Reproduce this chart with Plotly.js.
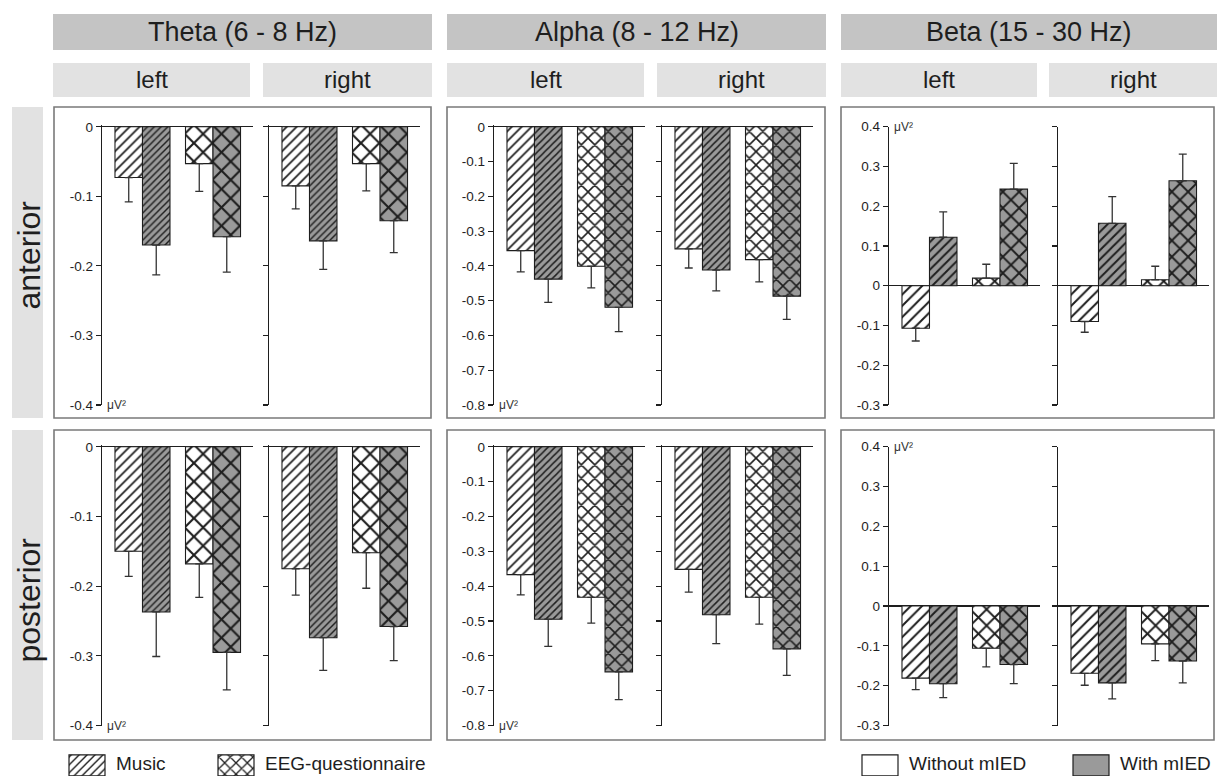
<!DOCTYPE html>
<html>
<head>
<meta charset="utf-8">
<script src="https://cdn.plot.ly/plotly-3.0.1.min.js"></script>
<style>
  html, body { margin: 0; padding: 0; background: #ffffff; }
  #chart { width: 1217px; height: 776px; }
</style>
</head>
<body>
<div id="chart"></div>
<script>
// ---------------- DATA ----------------
const bands = ["Theta (6 - 8 Hz)", "Alpha (8 - 12 Hz)", "Beta (15 - 30 Hz)"];
const hemispheres = ["left", "right"];
const regions = ["anterior", "posterior"];
const conditions = ["Music", "EEG-questionnaire"];
const groups = ["Without mIED", "With mIED"];

// values ordered: [left-Music, left-EEG, right-Music, right-EEG]  (µV²)
const thetaAntWithout   = [-0.073, -0.053, -0.085, -0.053];
const thetaAntWith      = [-0.170, -0.158, -0.164, -0.135];
const thetaAntWithoutSE = [0.035, 0.040, 0.033, 0.039];
const thetaAntWithSE    = [0.043, 0.051, 0.041, 0.046];

const alphaAntWithout   = [-0.356, -0.401, -0.351, -0.382];
const alphaAntWith      = [-0.438, -0.519, -0.412, -0.487];
const alphaAntWithoutSE = [0.061, 0.062, 0.055, 0.064];
const alphaAntWithSE    = [0.067, 0.070, 0.060, 0.067];

const betaAntWithout    = [-0.107, 0.019, -0.090, 0.015];
const betaAntWith       = [0.122, 0.243, 0.157, 0.264];
const betaAntWithoutSE  = [0.032, 0.035, 0.027, 0.034];
const betaAntWithSE     = [0.064, 0.065, 0.067, 0.067];

const thetaPostWithout   = [-0.150, -0.168, -0.175, -0.152];
const thetaPostWith      = [-0.237, -0.295, -0.274, -0.258];
const thetaPostWithoutSE = [0.036, 0.048, 0.038, 0.051];
const thetaPostWithSE    = [0.064, 0.054, 0.047, 0.049];

const alphaPostWithout   = [-0.367, -0.432, -0.352, -0.432];
const alphaPostWith      = [-0.495, -0.646, -0.482, -0.580];
const alphaPostWithoutSE = [0.058, 0.074, 0.065, 0.077];
const alphaPostWithSE    = [0.078, 0.080, 0.083, 0.076];

const betaPostWithout    = [-0.181, -0.106, -0.169, -0.095];
const betaPostWith       = [-0.195, -0.147, -0.193, -0.138];
const betaPostWithoutSE  = [0.029, 0.047, 0.030, 0.042];
const betaPostWithSE     = [0.035, 0.048, 0.040, 0.055];

// axis ranges and tick labels per band (tiny headroom above 0 keeps the zero line unclipped)
const thetaRange = [-0.4, 0.003];
const alphaRange = [-0.8, 0.006];
const betaRange  = [-0.3, 0.4];
const thetaTickVals = [0, -0.1, -0.2, -0.3, -0.4];
const thetaTickText = ["0", "-0.1", "-0.2", "-0.3", "-0.4"];
const alphaTickVals = [0, -0.1, -0.2, -0.3, -0.4, -0.5, -0.6, -0.7, -0.8];
const alphaTickText = ["0", "-0.1", "-0.2", "-0.3", "-0.4", "-0.5", "-0.6", "-0.7", "-0.8"];
const betaTickVals  = [0.4, 0.3, 0.2, 0.1, 0, -0.1, -0.2, -0.3];
const betaTickText  = ["0.4", "0.3", "0.2", "0.1", "0", "-0.1", "-0.2", "-0.3"];
const unitLabel = "μV²";

// ---------------- LAYOUT HELPERS ----------------
const W = 1217, H = 776;
const fx = p => p / W;
const fy = p => 1 - p / H;
const FONT = "Liberation Sans, Arial, Helvetica, sans-serif";
const INK = "#1e1e1e";
const GRAY_BAR = "#9a9a9a";

const panelData = [
  [ // anterior
    {w: thetaAntWithout, m: thetaAntWith, wse: thetaAntWithoutSE, mse: thetaAntWithSE},
    {w: alphaAntWithout, m: alphaAntWith, wse: alphaAntWithoutSE, mse: alphaAntWithSE},
    {w: betaAntWithout,  m: betaAntWith,  wse: betaAntWithoutSE,  mse: betaAntWithSE}
  ],
  [ // posterior
    {w: thetaPostWithout, m: thetaPostWith, wse: thetaPostWithoutSE, mse: thetaPostWithSE},
    {w: alphaPostWithout, m: alphaPostWith, wse: alphaPostWithoutSE, mse: alphaPostWithSE},
    {w: betaPostWithout,  m: betaPostWith,  wse: betaPostWithoutSE,  mse: betaPostWithSE}
  ]
];
// topPad: pixels of headroom above the plotted top value
const bandAxes = [
  {range: thetaRange, vals: thetaTickVals, text: thetaTickText, unitY: -0.4, topPad: 2},
  {range: alphaRange, vals: alphaTickVals, text: alphaTickText, unitY: -0.8, topPad: 2},
  {range: betaRange,  vals: betaTickVals,  text: betaTickText,  unitY: 0.4,  topPad: 0}
];
// hatch styles per band: [white slash, gray slash, cross]
const bandHatch = [
  {sw: 7, sg: 4.8, cx: 13},
  {sw: 7, sg: 5,   cx: 9.5},
  {sw: 8, sg: 6.5, cx: 11.5}
];

// pixel geometry
const subX = [[102, 253], [269, 420], [494, 645], [662, 813], [889, 1040], [1058, 1209]];
const rowY = [[126.7, 405], [446.7, 725.5]];
const panelX = [[54, 431], [447, 825], [841, 1214]];
const panelY = [[107, 418], [430, 740]];
const rowLabelY = [255, 600];
const headX = [[53, 432], [447, 826], [841, 1217]];
const subHeadX = [[53, 250], [263, 432], [447, 644], [657, 826], [841, 1037], [1049, 1217]];
const legendX = [58, 207, 851, 1062];

const sfx = k => (k === 1 ? "" : String(k));
const errUp = (vals, se) => vals.map((v, i) => (v >= 0 ? se[i] : 0));
const errDown = (vals, se) => vals.map((v, i) => (v < 0 ? se[i] : 0));

const traces = [];
const layout = {
  width: W, height: H,
  margin: {l: 0, r: 0, t: 0, b: 0, autoexpand: false},
  paper_bgcolor: "#ffffff",
  plot_bgcolor: "rgba(0,0,0,0)",
  font: {family: FONT, color: INK, size: 13},
  barmode: "group",
  bargap: 0.22,
  bargroupgap: 0,
  showlegend: true,
  shapes: [],
  annotations: []
};

for (let r = 0; r < 2; r++) {
  for (let b = 0; b < 3; b++) {
    const pd = panelData[r][b];
    const ax = bandAxes[b];
    const hs = bandHatch[b];
    for (let h = 0; h < 2; h++) {
      const k = r * 6 + b * 2 + h + 1;
      const xs = subX[b * 2 + h];
      layout["xaxis" + sfx(k)] = {
        domain: [fx(xs[0]), fx(xs[1])],
        range: [-0.574, 1.567],
        type: "category",
        anchor: "y" + sfx(k),
        visible: false, fixedrange: true
      };
      layout["yaxis" + sfx(k)] = {
        domain: [fy(rowY[r][1]), fy(rowY[r][0] - ax.topPad)],
        range: ax.range,
        anchor: "x" + sfx(k),
        showline: true, linecolor: INK, linewidth: 1.3,
        ticks: "outside", ticklen: 5, tickwidth: 1.2, tickcolor: INK,
        tickmode: "array", tickvals: ax.vals, ticktext: ax.text,
        showticklabels: h === 0,
        tickfont: {size: 13.5, color: INK, family: FONT},
        showgrid: false,
        zeroline: true, zerolinecolor: INK, zerolinewidth: 1.4,
        fixedrange: true
      };
      const wv = [pd.w[2 * h], pd.w[2 * h + 1]];
      const mv = [pd.m[2 * h], pd.m[2 * h + 1]];
      const wse = [pd.wse[2 * h], pd.wse[2 * h + 1]];
      const mse = [pd.mse[2 * h], pd.mse[2 * h + 1]];
      traces.push({
        type: "bar", name: groups[0], x: conditions, y: wv,
        xaxis: "x" + sfx(k), yaxis: "y" + sfx(k),
        showlegend: false, hoverinfo: "skip",
        marker: {
          color: "#ffffff", line: {color: INK, width: 1.1},
          pattern: {shape: ["/", "x"], size: [hs.sw, hs.cx], solidity: [0.25, 0.3],
                    fgcolor: INK, bgcolor: "#ffffff", fillmode: "replace"}
        },
        error_y: {type: "data", symmetric: false, array: errUp(wv, wse), arrayminus: errDown(wv, wse),
                  color: "#333333", thickness: 1.3, width: 4}
      });
      traces.push({
        type: "bar", name: groups[1], x: conditions, y: mv,
        xaxis: "x" + sfx(k), yaxis: "y" + sfx(k),
        showlegend: false, hoverinfo: "skip",
        marker: {
          color: GRAY_BAR, line: {color: INK, width: 1.1},
          pattern: {shape: ["/", "x"], size: [hs.sg, hs.cx], solidity: [0.3, 0.3],
                    fgcolor: INK, bgcolor: GRAY_BAR, fillmode: "replace"}
        },
        error_y: {type: "data", symmetric: false, array: errUp(mv, mse), arrayminus: errDown(mv, mse),
                  color: "#333333", thickness: 1.3, width: 4}
      });
      // unit label on left sub-plot
      if (h === 0) {
        layout.annotations.push({
          xref: "x" + sfx(k) + " domain", x: 0, xanchor: "left", xshift: 3,
          yref: "y" + sfx(k), y: ax.unitY, yanchor: "middle",
          text: unitLabel, showarrow: false,
          font: {size: 12, color: "#333333", family: FONT}
        });
      }
    }
  }
}

// panel frames
for (let r = 0; r < 2; r++) {
  for (let b = 0; b < 3; b++) {
    layout.shapes.push({
      type: "rect", xref: "paper", yref: "paper", layer: "below",
      x0: fx(panelX[b][0]), x1: fx(panelX[b][1]), y0: fy(panelY[r][1]), y1: fy(panelY[r][0]),
      line: {color: "#7a7a7a", width: 1.6}, fillcolor: "rgba(0,0,0,0)"
    });
  }
  // row label boxes
  layout.shapes.push({
    type: "rect", xref: "paper", yref: "paper", layer: "below",
    x0: fx(12), x1: fx(43), y0: fy(panelY[r][1]), y1: fy(panelY[r][0]),
    line: {width: 0}, fillcolor: "#e2e2e2"
  });
  layout.annotations.push({
    xref: "paper", yref: "paper", x: fx(28.5), y: fy(rowLabelY[r]),
    text: regions[r], textangle: -90, showarrow: false,
    xanchor: "center", yanchor: "middle",
    font: {size: 32, color: INK, family: FONT}
  });
}
// column headers
for (let b = 0; b < 3; b++) {
  layout.shapes.push({
    type: "rect", xref: "paper", yref: "paper", layer: "below",
    x0: fx(headX[b][0]), x1: fx(headX[b][1]), y0: fy(50), y1: fy(14),
    line: {width: 0}, fillcolor: "#c4c4c4"
  });
  layout.annotations.push({
    xref: "paper", yref: "paper", x: fx((headX[b][0] + headX[b][1]) / 2), y: fy(32),
    text: bands[b], showarrow: false, xanchor: "center", yanchor: "middle",
    font: {size: 27, color: INK, family: FONT}
  });
  for (let h = 0; h < 2; h++) {
    const sx = subHeadX[b * 2 + h];
    layout.shapes.push({
      type: "rect", xref: "paper", yref: "paper", layer: "below",
      x0: fx(sx[0]), x1: fx(sx[1]), y0: fy(97), y1: fy(63),
      line: {width: 0}, fillcolor: "#e2e2e2"
    });
    layout.annotations.push({
      xref: "paper", yref: "paper", x: fx((sx[0] + sx[1]) / 2), y: fy(80),
      text: hemispheres[h], showarrow: false, xanchor: "center", yanchor: "middle",
      font: {size: 24, color: INK, family: FONT}
    });
  }
}

// legend-only traces on a hidden axis pair (no visible marks)
layout.xaxis13 = {domain: [0, 0.001], visible: false, fixedrange: true, anchor: "y13"};
layout.yaxis13 = {domain: [0, 0.001], visible: false, fixedrange: true, anchor: "x13"};
const legendTraces = [
  {name: conditions[0], fill: "#ffffff", shape: "/", size: 7, sol: 0.25},
  {name: conditions[1], fill: "#ffffff", shape: "x", size: 10, sol: 0.3},
  {name: groups[0], fill: "#ffffff", shape: "", size: 8, sol: 0.2},
  {name: groups[1], fill: GRAY_BAR, shape: "", size: 8, sol: 0.2}
];
legendTraces.forEach((t, i) => {
  const lid = i === 0 ? "legend" : "legend" + (i + 1);
  traces.push({
    type: "bar", x: [t.name], y: [null], name: t.name, legend: lid,
    xaxis: "x13", yaxis: "y13", showlegend: true, hoverinfo: "skip",
    marker: {color: t.fill, line: {color: INK, width: 1.2},
             pattern: {shape: t.shape, size: t.size, solidity: t.sol, fgcolor: INK, bgcolor: t.fill, fillmode: "replace"}}
  });
  layout[lid] = {
    x: fx(legendX[i]), y: fy(763), xanchor: "left", yanchor: "middle",
    orientation: "h", font: {size: 19, color: INK, family: FONT},
    bgcolor: "rgba(0,0,0,0)", borderwidth: 0, itemwidth: 48,
    itemclick: false, itemdoubleclick: false
  };
});

Plotly.newPlot("chart", traces, layout, {displayModeBar: false, staticPlot: true}).then(gd => {
  // enlarge legend swatches to the reference's box size
  gd.querySelectorAll(".legendpoints path").forEach(p => {
    p.setAttribute("d", "M18,13H-18V-8H18Z");
  });
});
</script>
</body>
</html>
